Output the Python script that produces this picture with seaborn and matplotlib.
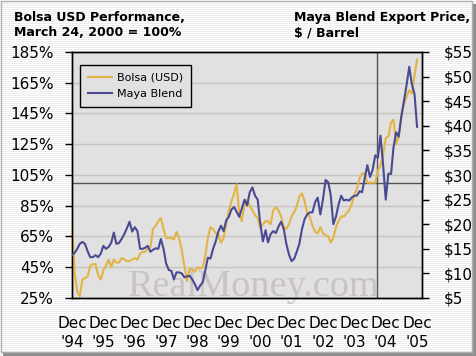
import numpy as np
import pandas as pd
import matplotlib
matplotlib.use("Agg")
import matplotlib.pyplot as plt
import seaborn as sns
from matplotlib.patches import Rectangle
from matplotlib.lines import Line2D

# ---------------- data (monthly, Dec 1994 .. Dec 2005) ----------------
bolsa_pct = [
    76, 41, 29, 26, 37, 38, 39, 46, 47, 47, 40, 37,
    43, 46, 50, 45, 50, 48, 48, 51, 50, 49, 49, 50,
    51, 50, 54, 55, 55, 57, 58, 70, 72, 75, 77, 70,
    64, 64, 64, 63, 68, 64, 56, 46, 36, 44, 44, 42,
    45, 44, 45, 52, 64, 71, 70, 67, 66, 61, 64, 73,
    82, 88, 93, 99, 80, 75, 86, 89, 85, 82, 79, 77,
    71, 73, 75, 75, 73, 82, 84, 82, 78, 71, 70, 73,
    78, 81, 85, 91, 93, 88, 80, 78, 72, 68, 67, 71,
    67, 66, 65, 61, 64, 71, 75, 78, 78, 80, 82, 86,
    92, 96, 103, 106, 106, 100, 100, 100, 100, 108, 111, 118,
    129, 130, 139, 141, 125, 130, 142, 151, 156, 160, 158, 170,
    180,
]
maya_usd = [
    13.7, 14.2, 15.0, 16.0, 16.4, 16.0, 14.5, 13.3, 13.3, 13.7, 13.3, 14.0,
    15.6, 15.0, 15.4, 16.2, 18.3, 16.0, 16.2, 17.0, 18.0, 19.2, 20.5, 18.5,
    19.4, 18.6, 15.0, 15.0, 15.2, 15.6, 14.4, 14.8, 15.1, 15.0, 17.0, 15.0,
    12.0, 10.7, 10.5, 8.8, 10.2, 10.2, 10.0, 9.2, 9.4, 9.5, 8.8, 7.8,
    6.6, 7.5, 8.2, 10.5, 13.2, 13.0, 15.0, 16.5, 18.5, 19.7, 18.6, 20.8,
    21.5, 23.0, 23.5, 22.5, 21.5, 23.2, 25.0, 23.8, 26.5, 27.5, 25.8, 25.0,
    20.2, 16.5, 18.8, 16.3, 18.0, 18.6, 18.2, 19.5, 20.5, 19.0, 16.0, 13.8,
    12.5, 13.0, 14.5, 16.0, 19.0, 21.0, 22.0, 22.4, 22.4, 24.5, 25.4, 22.0,
    25.0, 29.0, 28.5, 26.0, 20.0, 21.5, 24.0, 25.8, 24.8, 25.0, 24.8, 25.4,
    25.8, 25.8, 26.7, 26.5, 29.4, 32.0, 29.6, 31.0, 34.0, 33.5, 38.0, 32.0,
    25.0, 30.3, 30.2, 35.5, 38.7, 37.8, 42.0, 45.0, 48.3, 52.0, 48.5, 46.5,
    39.8,
]
months = pd.date_range("1994-12-01", periods=len(bolsa_pct), freq="MS")
left_ticks = list(range(25, 186, 20))
right_ticks = list(range(5, 56, 5))
x_tick_years = list(range(1994, 2006))
base_level = 100
marker_date = "2004-08-20"
series_names = ["Bolsa (USD)", "Maya Blend"]
left_title = "Bolsa USD Performance,\nMarch 24, 2000 = 100%"
right_title = "Maya Blend Export Price,\n$ / Barrel"
watermark = "RealMoney.com"

GOLD = "#e2b445"
NAVY = "#4a4a92"
LW = 1.5

W, H = 477, 356
plt.rcParams["font.family"] = ["DejaVu Sans"]
fig = plt.figure(figsize=(W / 100, H / 100), dpi=100)

# striped background
bg = fig.add_axes([0, 0, 1, 1], zorder=-10)
stripes = np.tile(np.array([[1.0], [0.925]]), (H // 2, W))
bg.imshow(stripes, cmap="gray", vmin=0, vmax=1, aspect="auto",
          interpolation="nearest", extent=(0, W, 0, H))
bg.set_xlim(0, W)
bg.set_ylim(0, H)
bg.axis("off")
# frame + shadow
bg.add_patch(Rectangle((472.5, 0), 4.5, 352, color="#8e8e8e", lw=0))
bg.add_patch(Rectangle((3, 0), 474, 4.5, color="#8e8e8e", lw=0))
bg.add_patch(Rectangle((0.5, 4.5), 472, 351, fill=False, edgecolor="#b0b0b0", lw=1))

df = pd.DataFrame({"date": months, "bolsa": bolsa_pct, "maya": maya_usd})

ax = fig.add_axes([72 / W, (H - 298) / H, (421.7 - 72) / W, (298 - 52) / H])
ax.set_facecolor("#e1e1e1")
sns.lineplot(data=df, x="date", y="bolsa", ax=ax, color=GOLD, lw=LW,
             legend=False, zorder=3)
ax.axhline(base_level, color="#555555", lw=1, zorder=2.5)
ax.axvline(pd.Timestamp(marker_date), color="#555555", lw=1, zorder=2.5)

ax2 = ax.twinx()
sns.lineplot(data=df, x="date", y="maya", ax=ax2, color=NAVY, lw=LW,
             legend=False, zorder=3)

ax.set_xlim(pd.Timestamp("1994-12-01"), pd.Timestamp("2006-01-24"))
ax.set_ylim(left_ticks[0], left_ticks[-1])
ax2.set_ylim(right_ticks[0], right_ticks[-1])

ax.set_yticks(left_ticks)
ax.set_yticklabels([f"{v}%" for v in left_ticks])
ax2.set_yticks(right_ticks)
ax2.set_yticklabels(["\\$" + str(v) for v in right_ticks])
ax.set_xticks([pd.Timestamp(f"{y}-12-01") for y in x_tick_years])
ax.set_xticklabels([f"Dec\n'{y % 100:02d}" for y in x_tick_years], linespacing=1.3)

ax.set_xlabel("")
ax.set_ylabel("")
ax2.set_ylabel("")

ax.yaxis.grid(True, color="#c6c6be", lw=1, zorder=1)
ax.xaxis.grid(False)
ax.set_axisbelow(True)

ax.tick_params(axis="y", length=5, width=1, direction="out", pad=8,
               labelsize=11, colors="black")
ax.tick_params(axis="x", length=0, pad=13, labelsize=11, colors="black")
ax2.tick_params(axis="y", length=5, width=1, direction="out", pad=11,
                labelsize=11, colors="black")
for a in (ax, ax2):
    for s in a.spines.values():
        s.set_color("black")
        s.set_linewidth(1)

# watermark
ax.text((253.5 - 72) / (421.7 - 72), (298 - 296.5) / (298 - 52), watermark,
        transform=ax.transAxes, ha="center", va="baseline",
        family=["Liberation Serif", "DejaVu Serif"], fontsize=27.5,
        color="#cbc2c2", zorder=1.5, clip_on=False)

handles = [Line2D([], [], color=GOLD, lw=LW), Line2D([], [], color=NAVY, lw=LW)]
leg = ax2.legend(handles, series_names, loc="upper left",
                 bbox_to_anchor=((80 - 72) / (421.7 - 72), (298 - 65) / (298 - 52)),
                 borderaxespad=0, fontsize=8, frameon=True, fancybox=False,
                 handlelength=2.2, handletextpad=0.4, borderpad=0.7,
                 labelspacing=0.55)
leg.get_frame().set_facecolor("#e1e1e1")
leg.get_frame().set_edgecolor("black")
leg.get_frame().set_linewidth(1)
leg.get_frame().set_alpha(1)

fig.text(14 / W, 1 - 11 / H, left_title, ha="left", va="top", fontsize=9,
         fontweight="bold", linespacing=1.2)
fig.text(294 / W, 1 - 11 / H, right_title, ha="left", va="top", fontsize=9,
         fontweight="bold", linespacing=1.2)

fig.savefig("out.png", dpi=100)
